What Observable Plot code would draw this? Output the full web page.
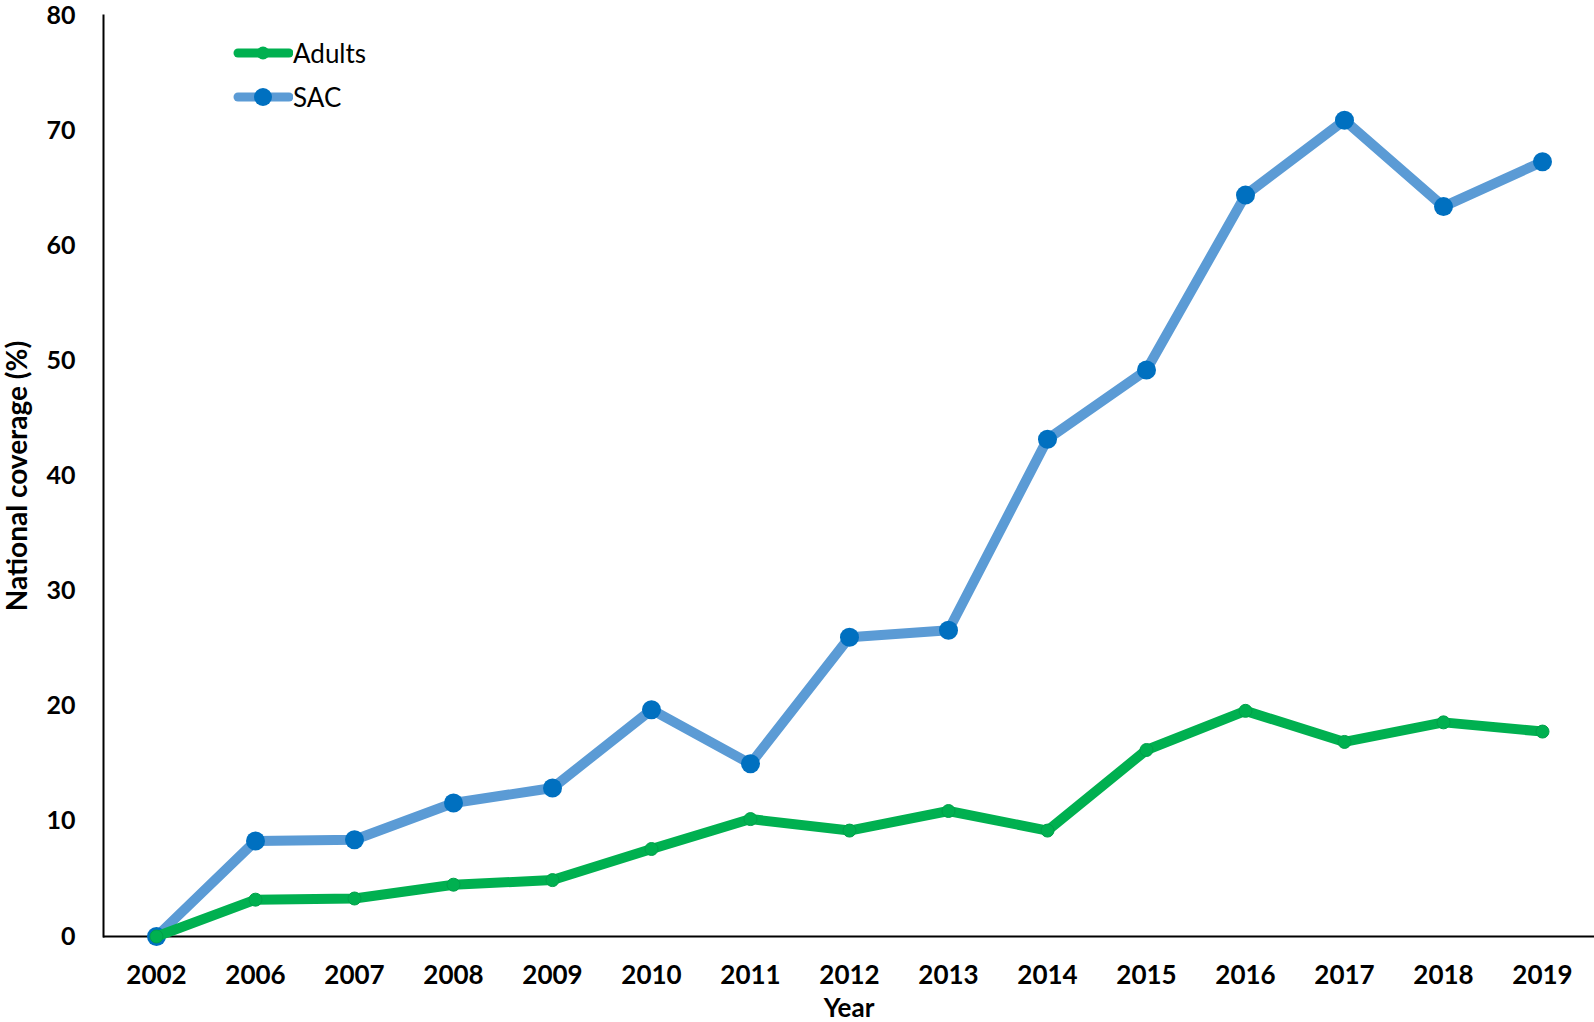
<!DOCTYPE html>
<html>
<head>
<meta charset="utf-8">
<script src="https://cdn.jsdelivr.net/npm/d3@7"></script>
<script src="https://cdn.jsdelivr.net/npm/@observablehq/plot@0.6"></script>
<style>
  html, body { margin: 0; padding: 0; background: #fff; }
  #wrap { position: relative; width: 1594px; height: 1022px; }
  #legend { position: absolute; left: 233px; top: 31px; font-family: Lato, "Open Sans", sans-serif; font-size: 26px; color: #000; }
  .item { display: flex; align-items: center; height: 44px; }
  .item svg { margin-right: 0px; }
</style>
</head>
<body>
<div id="wrap">
  <div id="chart"></div>
  <div id="legend"></div>
</div>
<script>
const years = ["2002","2006","2007","2008","2009","2010","2011","2012","2013","2014","2015","2016","2017","2018","2019"];
const sac = [0, 8.3, 8.4, 11.6, 12.9, 19.7, 15.0, 26.0, 26.6, 43.2, 49.2, 64.4, 70.9, 63.4, 67.3];
const adults = [0, 3.2, 3.3, 4.5, 4.9, 7.6, 10.2, 9.2, 10.9, 9.2, 16.2, 19.6, 16.9, 18.6, 17.8];
const yTicks = [0, 10, 20, 30, 40, 50, 60, 70, 80];
const seriesNames = ["Adults", "SAC"];
const xTitle = "Year";
const yTitle = "National coverage (%)";

const sacData = years.map((y, i) => ({year: y, value: sac[i]}));
const adultData = years.map((y, i) => ({year: y, value: adults[i]}));

const font = 'Lato, "Open Sans", sans-serif';

const chart = Plot.plot({
  width: 1594,
  height: 1022,
  marginLeft: 103,
  marginRight: 0,
  marginTop: 15,
  marginBottom: 86,
  style: {fontFamily: font, background: "#fff", color: "#000", overflow: "visible"},
  x: {type: "point", domain: years, padding: 0.5},
  y: {domain: [0, 80]},
  marks: [
    Plot.axisY({ticks: yTicks, tickSize: 0, tickPadding: 28, fontSize: 25, fontWeight: "bold", label: null}),
    Plot.axisX({tickSize: 0, tickPadding: 29, fontSize: 26, fontWeight: "bold", label: null}),
    Plot.text([yTitle], {text: d => d, frameAnchor: "left", rotate: -90, textAnchor: "middle", lineAnchor: "middle",
      dx: -85, fontSize: 28, fontWeight: "bold", fill: "#000"}),
    Plot.text([xTitle], {text: d => d, frameAnchor: "bottom", textAnchor: "middle", lineAnchor: "middle",
      dy: 72, fontSize: 26, fontWeight: "bold", fill: "#000"}),
    Plot.frame({anchor: "left", stroke: "#000", strokeWidth: 2}),
    Plot.ruleY([0], {stroke: "#000", strokeWidth: 2}),
    Plot.line(sacData, {x: "year", y: "value", stroke: "#5B9BD5", strokeWidth: 10, strokeLinejoin: "round"}),
    Plot.dot(sacData, {x: "year", y: "value", r: 9.5, fill: "#0070C0"}),
    Plot.line(adultData, {x: "year", y: "value", stroke: "#00B050", strokeWidth: 10, strokeLinejoin: "round"}),
    Plot.dot(adultData, {x: "year", y: "value", r: 6.5, fill: "#00B050", stroke: "#00A04A", strokeWidth: 1})
  ]
});
document.getElementById("chart").appendChild(chart);

// legend
const legendSpec = [
  {name: seriesNames[0], line: "#00B050", dot: "#00B050", r: 6.5},
  {name: seriesNames[1], line: "#5B9BD5", dot: "#0070C0", r: 9}
];
const legend = document.getElementById("legend");
for (const s of legendSpec) {
  const item = document.createElement("div");
  item.className = "item";
  item.innerHTML = `<svg width="60" height="24"><line x1="5" y1="12" x2="56" y2="12" stroke="${s.line}" stroke-width="9" stroke-linecap="round"/><circle cx="30" cy="12" r="${s.r}" fill="${s.dot}"/></svg><span>${s.name}</span>`;
  legend.appendChild(item);
}
</script>
</body>
</html>
